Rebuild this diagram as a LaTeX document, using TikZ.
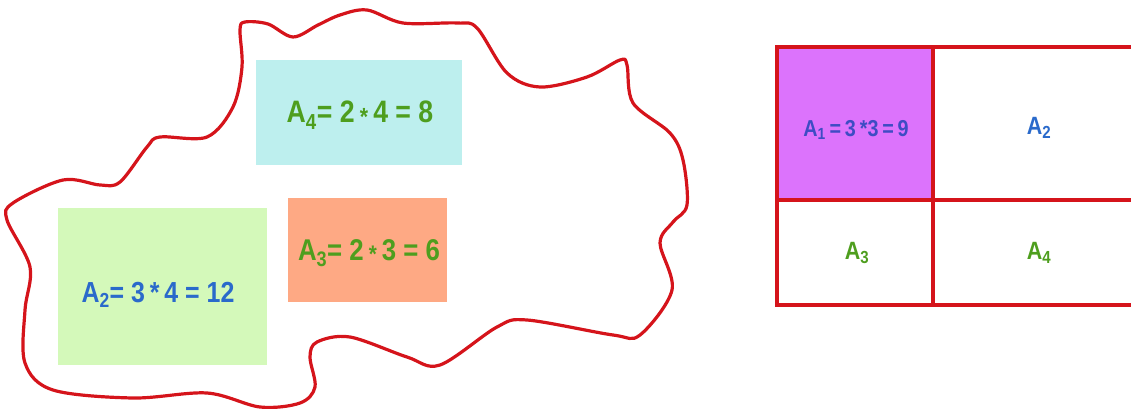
\documentclass[tikz,border=0pt]{standalone}
\usepackage{fontspec}
\setmainfont{Liberation Sans}[FakeStretch=0.86]
\begin{document}
\begin{tikzpicture}[x=1pt,y=-1pt,
  area/.style={draw=none,inner sep=0pt,anchor=north west},
  lbl/.style={font=\bfseries\fontsize{#1}{#1}\selectfont,inner sep=0pt},
  lbl/.default=22,
  gridline/.style={draw=redline,line width=3.2pt}]
\definecolor{redline}{HTML}{D5141B}
\definecolor{cyanbox}{HTML}{BDEFEE}
\definecolor{greenbox}{HTML}{D4F9BA}
\definecolor{salmonbox}{HTML}{FEA984}
\definecolor{magbox}{HTML}{DC73FC}
\definecolor{bluetxt}{HTML}{2A6ACB}
\definecolor{greentxt}{HTML}{4E9E1E}
\definecolor{purpletxt}{HTML}{3E4CC4}
\newcommand{\midstar}{\raisebox{-0.15ex}{\fontsize{0.8em}{1em}\selectfont*}}
\useasboundingbox (0,0) rectangle (1131,409);
\clip (0,0) rectangle (1131,409);
% boxes
\node[area,fill=cyanbox,minimum width=206pt,minimum height=105pt] (b4) at (256,60) {};
\node[area,fill=greenbox,minimum width=209pt,minimum height=157pt] (b2) at (58,208) {};
\node[area,fill=salmonbox,minimum width=159pt,minimum height=104pt] (b3) at (288,198) {};
\node[lbl=31,text=greentxt] (t4) at (360,115) {A\textsubscript{4}= 2\,\midstar\,4 = 8};
\node[lbl=29,text=bluetxt] (t2) at (158,295) {A\textsubscript{2}= 3\,*\,4 = 12};
\node[lbl=30,text=greentxt] (t3) at (369,253) {A\textsubscript{3}= 2\,\midstar\,3 = 6};
% blob
\draw[redline,line width=3.2pt,line join=round] plot[smooth cycle,tension=0.55] coordinates {
 (245,22) (268,24) (293,37) (318,25) (340,15) (367,10) (403,23) (457,23) (477,28)
 (507,73) (540,87) (587,77) (620,60) (627,65) (633,103) (670,133) (683,160)
 (687,205) (673,222) (660,243) (672,290) (640,335) (613,335) (527,320) (497,327)
 (440,365) (407,357) (350,337) (317,342) (310,357) (315,387) (300,403) (260,407)
 (207,393) (133,398) (53,390) (25,363) (25,310) (30,267) (7,220) (13,203)
 (63,180) (100,185) (120,182) (147,147) (160,137) (207,137) (233,107) (242,67) (240,30)};
% grid
\node[area,fill=magbox,minimum width=156pt,minimum height=153pt] (c1) at (777,47) {};
\coordinate (g1) at (777,47);
\coordinate (g2) at (1145,305);
\coordinate (m1) at (933,47);
\coordinate (m2) at (933,305);
\coordinate (h1) at (777,200);
\coordinate (h2) at (1145,200);
\draw[gridline] (g1) rectangle (g2);
\draw[gridline] (m1) -- (m2);
\draw[gridline] (h1) -- (h2);
\node[lbl=23,text=purpletxt] (ta1) at (856,130) {A\textsubscript{1}\,=\,3\,*3\,=\,9};
\node[lbl=25,text=bluetxt] (ta2) at (1039,128) {A\textsubscript{2}};
\node[lbl=25,text=greentxt] (ta3) at (857,253) {A\textsubscript{3}};
\node[lbl=25,text=greentxt] (ta4) at (1039,253) {A\textsubscript{4}};
\end{tikzpicture}
\end{document}
